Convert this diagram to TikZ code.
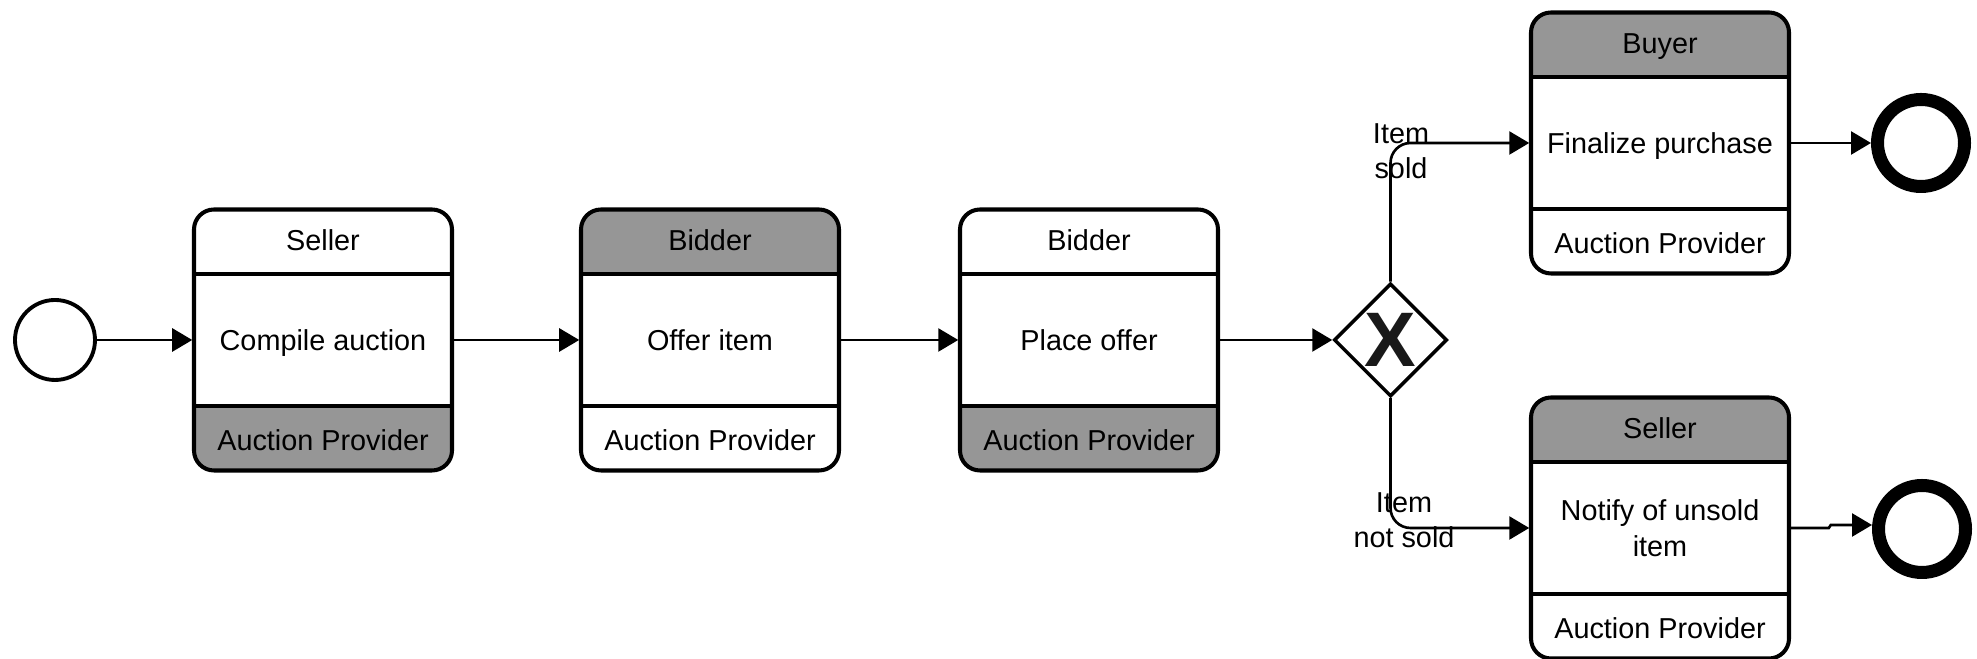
\documentclass[tikz,border=0pt]{standalone}
\usepackage{fontspec}
\setmainfont{Liberation Sans}
\usepackage{xcolor}
\usetikzlibrary{shapes.geometric, positioning, arrows.meta}
\definecolor{gris}{RGB}{150,150,150}
\tikzset{
  cuerpo/.style={minimum width=2.58cm, minimum height=1.32cm, inner sep=0pt, outer sep=0.5pt, align=center, text depth=0pt},
  franja/.style={minimum width=2.58cm, minimum height=0.645cm, inner sep=0pt, outer sep=0pt, text height=5.9pt, text depth=0pt},
  flujo/.style={line width=0.75pt, -{Triangle[length=0.2cm, width=0.23cm]}},
  borde/.style={line width=1.15pt}
}
\newcommand{\tarea}[7]{%
\begin{scope}[shift={(#2)}]
  \begin{scope}
    \clip[rounded corners=0.2cm] (-1.29,-1.305) rectangle (1.29,1.305);
    \fill[fill=#6] (-1.29,0.66) rectangle (1.29,1.305);
    \fill[fill=#7] (-1.29,-0.66) rectangle (1.29,-1.305);
  \end{scope}
  \draw[borde, rounded corners=0.2cm] (-1.29,-1.305) rectangle (1.29,1.305);
  \draw[borde] (-1.29,0.66) -- (1.29,0.66) (-1.29,-0.66) -- (1.29,-0.66);
  \node[cuerpo] (#1) at (0,0) {#4};
  \node[franja, above=0pt of #1] (#1-arriba) {#3};
  \node[franja, below=0pt of #1] (#1-abajo) {#5};
\end{scope}}

\begin{document}
\begin{tikzpicture}[font=\fontsize{8.2}{10}\selectfont]
\useasboundingbox (0,0) rectangle (19.77,6.59);
\node[circle, draw, line width=1.1pt, minimum size=0.8cm, inner sep=0pt] (inicio) at (0.55,3.19) {};
\foreach \n/\x/\ar/\cu/\fa/\fb in {compilar/3.23/Seller/Compile auction/white/gris, ofrecer/7.10/Bidder/Offer item/gris/white, pujar/10.89/Bidder/Place offer/white/gris} {
  \tarea{\n}{\x,3.19}{\ar}{\cu}{Auction Provider}{\fa}{\fb}
}
\tarea{finalizar}{16.60,5.16}{Buyer}{Finalize purchase}{Auction Provider}{gris}{white}
\tarea{avisar}{16.60,1.31}{Seller}{Notify of unsold\\item}{Auction Provider}{gris}{white}
\node[diamond, draw, line width=1pt, minimum size=1.13cm, inner sep=0pt, text=black!90, font=\fontsize{22}{22}\selectfont\bfseries] (puerta) at (13.905,3.19) {X};
\node[circle, draw, line width=3.7pt, minimum size=0.87cm, inner sep=0pt] (fin1) at (19.21,5.16) {};
\node[circle, draw, line width=3.7pt, minimum size=0.87cm, inner sep=0pt] (fin2) at (19.22,1.30) {};
\draw[flujo] (inicio) -- (compilar);
\draw[flujo] (compilar) -- (ofrecer);
\draw[flujo] (ofrecer) -- (pujar);
\draw[flujo] (pujar) -- (puerta);
\draw[flujo, rounded corners=0.2cm] (puerta.north) |- (finalizar);
\draw[flujo, rounded corners=0.2cm] (puerta.south) |- (avisar);
\draw[flujo] (finalizar) -- (fin1);
\draw[flujo] (avisar.east) -- ++(0.38,0) -- ++(0.02,0.03) coordinate (salto) -- (salto -| fin2.west);
\node[align=center] (vendido) at (14.01,5.075) {Item\\sold};
\node[align=center] (novendido) at (14.04,1.385) {Item\\not sold};
\end{tikzpicture}
\end{document}
